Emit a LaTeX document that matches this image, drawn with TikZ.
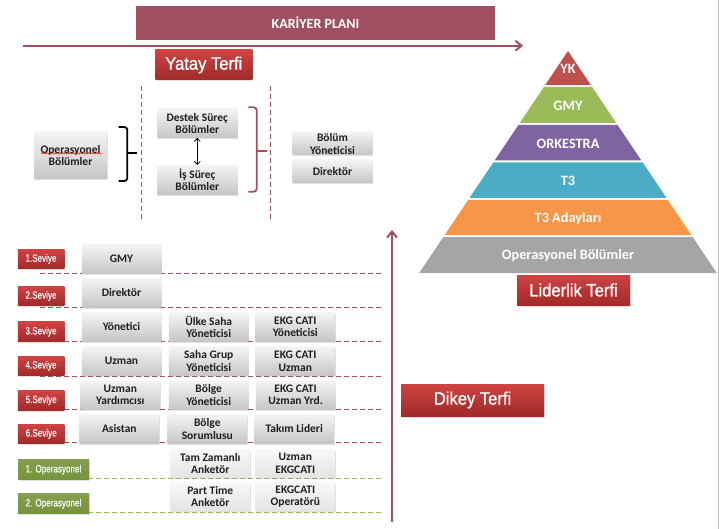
\documentclass[tikz,border=0pt]{standalone}
\usepackage{fontspec}
\setmainfont{Carlito}
\newfontfamily\narrowf[FakeStretch=0.77,FakeBold=0.4]{Liberation Sans}
\newfontfamily\titlef[FakeStretch=0.92,FakeBold=1]{Liberation Sans}
\usetikzlibrary{arrows.meta,shadows,decorations.pathmorphing,calc}
\definecolor{mymaroon}{HTML}{A34F62}
\definecolor{kpfill}{HTML}{A04F62}
\definecolor{redtop}{HTML}{D04343}
\definecolor{redbot}{HTML}{A12A2A}
\definecolor{grtop}{HTML}{F4F4F4}
\definecolor{grbot}{HTML}{C6C6C6}
\definecolor{lttop}{HTML}{F8F8F8}
\definecolor{ltbot}{HTML}{E4E4E4}
\definecolor{myolive}{HTML}{77933C}
\definecolor{dashgreen}{HTML}{9BBB59}
\definecolor{pyk}{HTML}{C0504D}
\definecolor{pgmy}{HTML}{9BBB59}
\definecolor{pork}{HTML}{8064A2}
\definecolor{pt3}{HTML}{4BACC6}
\definecolor{pt3a}{HTML}{F79646}
\definecolor{pop}{HTML}{A5A5A5}
\tikzset{
  boxshadow/.style={drop shadow={shadow xshift=0.6pt, shadow yshift=-1.5pt, opacity=0.2, fill=black!60}},
  graybox/.style={shading=axis, top color=grtop, bottom color=grbot, minimum width=79.5pt,
    minimum height=28.5pt, inner sep=0.5pt, align=center, text=black!88,
    font=\fontsize{11.5}{12.5}\selectfont\bfseries, boxshadow},
  lightbox/.style={graybox, top color=lttop, bottom color=ltbot},
  redbadge/.style={shading=axis, top color=redtop, bottom color=redbot, minimum width=46.5pt,
    minimum height=19.5pt, inner sep=0pt, text=white, font=\narrowf\fontsize{10.5}{12}\selectfont, boxshadow},
  greenbadge/.style={redbadge, top color=myolive!90!white, bottom color=myolive, minimum width=71pt},
  titlebox/.style={shading=axis, top color=redtop, bottom color=redbot, inner sep=0pt, text=white,
    font=\titlef\fontsize{18}{20}\selectfont, boxshadow},
  pyrtext/.style={text=white, font=\fontsize{14.3}{15}\selectfont\bfseries, inner sep=0pt},
  lvlline/.style={mymaroon, line width=1pt, dash pattern=on 5pt off 3pt},
  opline/.style={dashgreen, line width=1pt, dash pattern=on 5pt off 3pt},
  bigarrow/.style={mymaroon, line width=2pt, -{Straight Barb[length=6pt,width=10pt]}},
  bracket/.style={line width=1.8pt, rounded corners=3pt}
}
\begin{document}
\begin{tikzpicture}[x=1pt,y=-1pt]
\useasboundingbox (0,0) rectangle (719,529);
\fill[white] (0,0) rectangle (719,529);
\draw[gray!55, line width=1pt] (718.5,0) -- (718.5,529);

% title bar and horizontal arrow
\node[fill=kpfill, minimum width=359pt, minimum height=34pt, inner sep=0pt, text=white,
  font=\fontsize{14}{16}\selectfont\bfseries] (kp) at (315.5,23) {KARİYER PLANI};
\coordinate (hs) at (22.7,45.7);
\coordinate (he) at (523,45.7);
\draw[bigarrow] (hs) -- (he);

\node[titlebox, minimum width=97pt, minimum height=30pt] (yatay) at (203.8,65) {Yatay Terfi};

% vertical dashed separators
\coordinate (v1a) at (141.7,86); \coordinate (v1b) at (141.7,221);
\coordinate (v2a) at (270,86); \coordinate (v2b) at (270,221);
\draw[lvlline] (v1a) -- (v1b);
\draw[lvlline] (v2a) -- (v2b);

% top boxes
\node[graybox, minimum width=73pt, minimum height=47pt] (op) at (70.5,155.5) {Operasyonel\\Bölümler};
\draw[red, line width=0.5pt, decorate, decoration={snake, amplitude=0.7pt, segment length=2.6pt}]
  ($(op.center)+(-29.5,-2.2)$) -- ($(op.center)+(31.5,-2.2)$);
\node[graybox, minimum width=80pt, minimum height=28.7pt] (destek) at (197.3,123.3) {Destek Süreç\\Bölümler};
\node[graybox, minimum width=80pt, minimum height=29pt] (is) at (197.3,179.6) {İş Süreç\\Bölümler};
\draw[line width=0.8pt, {Straight Barb[length=3pt,width=6pt]}-{Straight Barb[length=3pt,width=6pt]}]
  (destek) -- (is);
\node[graybox, minimum width=79.6pt, minimum height=22.7pt, font=\fontsize{11.5}{13}\selectfont\bfseries] (bolum) at (332.5,143.6) {Bölüm\\Yöneticisi};
\node[graybox, minimum width=79.6pt, minimum height=22.7pt] (dir) at (332.5,171.3) {Direktör};

% brackets
\draw[bracket, black] (118.5,127) -- (127.3,127) -- (127.3,181) -- (118.5,181);
\draw[line width=1.8pt, black] (127.3,153.3) -- (136.7,153.3);
\draw[bracket, mymaroon] (248.3,107.3) -- (256.7,107.3) -- (256.7,191.7) -- (248.3,191.7);
\draw[line width=1.8pt, mymaroon] (256.7,150.7) -- (266.7,150.7);

% pyramid
\foreach \ya/\yb/\col/\txt [count=\i] in {51/85/pyk/YK, 87/123/pgmy/GMY, 125/160.5/pork/ORKESTRA,
   162.5/198/pt3/T3, 200/235/pt3a/T3 Adayları, 237/273/pop/Operasyonel Bölümler}{
  \fill[\col] ({568-(\ya-51)*0.6703},\ya) -- ({568+(\ya-51)*0.6703},\ya)
     -- ({568+(\yb-51)*0.6703},\yb) -- ({568-(\yb-51)*0.6703},\yb) -- cycle;
  \node[pyrtext] (pyr\i) at (568,{(\ya+\yb)/2+1}) {\txt};
}
\node[titlebox, minimum width=113pt, minimum height=30pt] (lider) at (573.5,290) {Liderlik Terfi};

% level lines
\foreach \y [count=\i] in {273.7,307.3,341.3,376,409.3,442.7}{
  \coordinate (la\i) at (40,\y); \coordinate (lb\i) at (381,\y);
  \draw[lvlline] (la\i) -- (lb\i);
}
\foreach \y [count=\i] in {478.7,512.7}{
  \coordinate (ga\i) at (40,\y); \coordinate (gb\i) at (381,\y);
  \draw[opline] (ga\i) -- (gb\i);
}

% vertical arrow
\coordinate (vs) at (392,521.7);
\coordinate (ve) at (392,230);
\draw[bigarrow] (vs) -- (ve);
\node[titlebox, minimum width=143pt, minimum height=32pt] (dikey) at (472.5,400) {Dikey Terfi};

% levels
\node[redbadge] (s1) at (41,259) {1.Seviye};
\node[graybox] (r1a) at (121.5,259.2) {GMY};
\node[redbadge] (s2) at (41,296) {2.Seviye};
\node[graybox] (r2a) at (121.5,293) {Direktör};
\node[redbadge] (s3) at (41,331.7) {3.Seviye};
\node[graybox] (r3a) at (121.5,326.8) {Yönetici};
\node[graybox] (r3b) at (208.7,326.8) {Ülke Saha\\Yöneticisi};
\node[graybox] (r3c) at (295.3,326.8) {EKG CATI\\Yöneticisi};
\node[redbadge] (s4) at (41,365.8) {4.Seviye};
\node[graybox] (r4a) at (121.5,361.2) {Uzman};
\node[graybox] (r4b) at (208.7,361.2) {Saha Grup\\Yöneticisi};
\node[graybox] (r4c) at (295.3,361.2) {EKG CATI\\Uzman};
\node[redbadge] (s5) at (41.2,400.3) {5.Seviye};
\node[graybox] (r5a) at (120.3,394.8) {Uzman\\Yardımcısı};
\node[graybox] (r5b) at (208.7,394.8) {Bölge\\Yöneticisi};
\node[graybox] (r5c) at (295.6,394.8) {EKG CATI\\Uzman Yrd.};
\node[redbadge] (s6) at (41.2,433.8) {6.Seviye};
\node[graybox] (r6a) at (119.3,428.8) {Asistan};
\node[graybox] (r6b) at (207.3,428.8) {Bölge\\Sorumlusu};
\node[graybox] (r6c) at (294.2,428.8) {Takım Lideri};
\node[greenbadge] (o1) at (53.5,469.7) {1. Operasyonel};
\node[lightbox, minimum height=28pt] (r7b) at (210.3,463.3) {Tam Zamanlı\\Anketör};
\node[lightbox, minimum height=28pt] (r7c) at (295.3,463.3) {Uzman\\EKGCATI};
\node[greenbadge] (o2) at (53.5,503.7) {2. Operasyonel};
\node[lightbox, minimum height=28pt] (r8b) at (210.3,496.7) {Part Time\\Anketör};
\node[lightbox, minimum height=28pt] (r8c) at (295.3,496.7) {EKGCATI\\Operatörü};
\end{tikzpicture}
\end{document}
